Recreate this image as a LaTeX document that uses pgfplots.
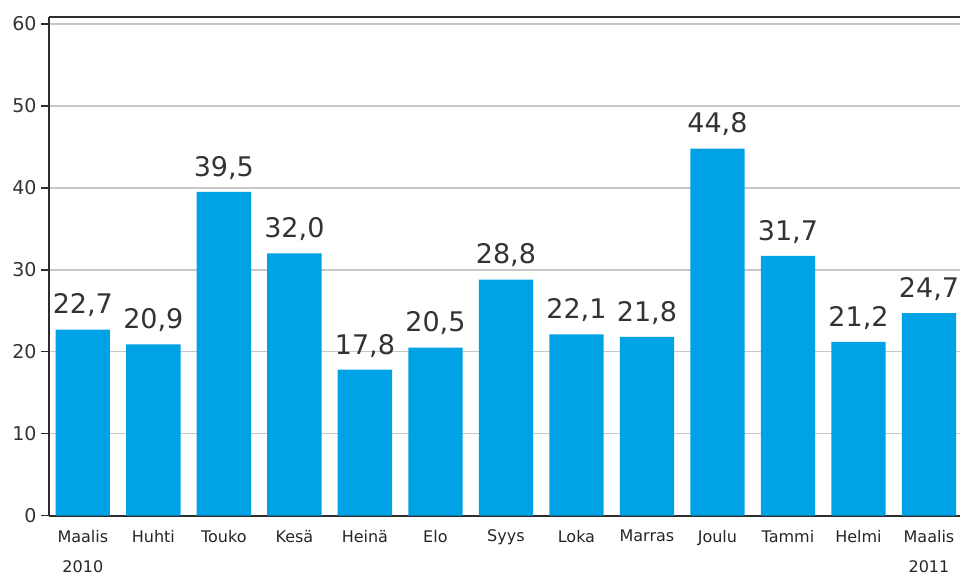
\documentclass[border=0pt]{standalone}
\usepackage{pgfplots}
\pgfplotsset{compat=1.18}
\usepackage{fontspec}
\setmainfont{DejaVu Sans}
\definecolor{barblue}{RGB}{0,162,230}
\definecolor{axisgray}{RGB}{45,45,45}
\begin{document}
\begin{tikzpicture}
\begin{axis}[
  name=ax,
  scale only axis,
  width=911bp, height=498bp,
  xmin=-0.48, xmax=12.44,
  ymin=0, ymax=60.8,
  axis x line*=bottom,
  axis y line*=left,
  axis line style={draw=axisgray, line width=2bp},
  ytick={0,10,...,60},
  xtick={0,...,12},
  xticklabels={{Maalis\\[11bp]2010},Huhti,Touko,Kesä,Heinä,Elo,Syys,Loka,Marras,Joulu,Tammi,Helmi,{Maalis\\[11bp]2011}},
  x tick label style={font=\fontsize{16bp}{19bp}\selectfont, align=center, text=black!85, anchor=north, yshift=-3bp},
  y tick label style={font=\fontsize{19bp}{23bp}\selectfont, text=black!80, xshift=-1bp},
  /pgf/number format/assume math mode=true,
  major x tick style={draw=none},
  major y tick style={draw=axisgray, line width=1.5bp},
  tick align=outside,
  major tick length=8bp,
  ymajorgrids,
  grid style={draw=black!22, line width=1.5bp},
  clip=false,
  nodes near coords,
  nodes near coords style={font=\fontsize{27bp}{30bp}\selectfont, text=black!80, anchor=south, yshift=9bp,
    /pgf/number format/.cd, fixed, fixed zerofill, precision=1, use comma},
]
\addplot[ybar, bar width=0.77, fill=barblue, draw=none] coordinates {
(0,22.7) (1,20.9) (2,39.5) (3,32.0) (4,17.8) (5,20.5) (6,28.8)
(7,22.1) (8,21.8) (9,44.8) (10,31.7) (11,21.2) (12,24.7)};
\draw[axisgray, line width=2bp] (rel axis cs:0,1) -- (rel axis cs:1,1);
\end{axis}
\pgfresetboundingbox
\path ([shift={(-49bp,-61bp)}]ax.south west) rectangle ([shift={(0bp,17.5bp)}]ax.north east);
\end{tikzpicture}
\end{document}
